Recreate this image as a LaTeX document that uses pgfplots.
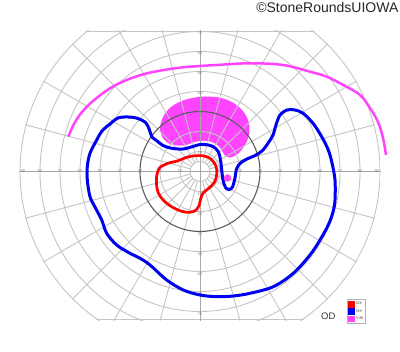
\documentclass[border=0pt]{standalone}
\usepackage{fontspec}
\setmainfont{Liberation Sans}
\usepackage{pgfplots}
\pgfplotsset{compat=1.18}
\definecolor{gridc}{HTML}{C4C4C4}
\definecolor{axc}{HTML}{A8A8A8}
\definecolor{darkc}{HTML}{5A5A5A}
\definecolor{isoR}{HTML}{FF0000}
\definecolor{isoB}{HTML}{0000F0}
\definecolor{isoM}{HTML}{FF44FF}
\pgfplotsset{sqleg/.style={legend image code/.code={\fill[##1] (0pt,-2.1pt) rectangle (4.3pt,2.1pt);}}}
\tikzset{lbl/.style={font=\fontsize{4.3}{5}\selectfont, text=black!45, inner sep=0pt}}
\begin{document}
\begin{tikzpicture}
\begin{axis}[hide axis, scale only axis, width=400pt, height=352pt,
  xmin=-100, xmax=100, ymin=-90.25, ymax=85.75, clip=false, sqleg,
  legend style={at={(0.8667,0.1497)}, anchor=north west,
    font=\fontsize{4.3}{4.8}\selectfont, draw=gray!60, inner sep=1.2pt,
    nodes={inner sep=0.6pt}, row sep=0.4pt, legend cell align=left, text=black!65}]
\path (axis cs:-100,-90.25) rectangle (axis cs:100,85.75);

% V4e filled region (under the grid)
\addplot[draw=none, fill=isoM, smooth, tension=0.6, forget plot] coordinates {
(0,37.4) (8.35,37.2) (15,35.2) (20,31.8) (23.35,27.4) (24.75,22.4) (24.25,17.4) (22,12.4) (18.5,8.5) (15,7) (12.25,8.25) (10.5,11.25) (8,13.75) (4,15.25) (0,15.25) (-3.5,14.5) (-8,13) (-13,13.25) (-16.5,14.5) (-18.5,16.5) (-19.9,20.5) (-19.5,24.5) (-17.5,29) (-13.5,33) (-7,36) (0,37.4)};

\begin{scope}
\clip (axis cs:-100,-74.3) rectangle (axis cs:100,70.3);
\clip (axis cs:0,0) circle[radius=90.4];
\pgfplotsinvokeforeach{5,10,20,40,50,60,70,80,90}{\draw[gridc, line width=0.9pt] (axis cs:0,0) circle[radius=#1];}
\pgfplotsinvokeforeach{15,30,...,345}{\draw[gridc,line width=0.9pt] (axis cs:{5*cos(#1)},{5*sin(#1)}) -- (axis cs:{100*cos(#1)},{100*sin(#1)});}
\draw[gridc, line width=0.9pt] (axis cs:-100,70) -- (axis cs:100,70);
\draw[gridc, line width=0.9pt] (axis cs:-100,-74) -- (axis cs:100,-74);
\draw[axc, line width=0.9pt] (axis cs:-100,0) -- (axis cs:100,0);
\draw[axc, line width=0.9pt] (axis cs:0,-80) -- (axis cs:0,80);
\draw[darkc, line width=1.1pt] (axis cs:0,0) circle[radius=30];
\end{scope}
\pgfplotsinvokeforeach{10,20,...,80}{\node[lbl] at (axis cs:#1,0) {#1}; \node[lbl] at (axis cs:-#1,0) {#1};}
\node[lbl] at (axis cs:88.5,0) {90}; \node[lbl] at (axis cs:-88.5,0) {90};
\pgfplotsinvokeforeach{10,20,...,70}{\node[lbl] at (axis cs:0,{#1-1}) {#1}; \node[lbl] at (axis cs:0,{-#1-1.5}) {#1};}

\addplot[only marks, mark=*, mark size=3.4pt, isoM, forget plot] coordinates {(13.75,-3.25)};

% I2e
\addplot[isoR, line width=2.7pt, smooth, tension=0.55] coordinates {
(-21.7,-2.6) (-20.4,1.6) (-16.3,4.0) (-11.2,5.3) (-7.5,6.8) (-3.4,7.8) (1.7,7.8) (5.4,6.3) (7.9,2.9) (8.4,-0.9) (7.4,-5.1) (4.7,-8.1) (1.7,-10.6) (0.4,-13.4) (-0.4,-16.8) (-2,-19.3) (-5,-20.4) (-9.2,-19.9) (-14.2,-17.6) (-18.4,-14.3) (-20.9,-10.6) (-21.7,-6.8) (-21.7,-2.6)};
\addlegendentry{I2e}

% I4e
\addplot[isoB, line width=3pt, smooth, tension=0.55] coordinates {
(-45,23.75) (-41,26.75) (-36,27.25) (-31,26.5) (-27,24.25) (-25.25,20.75) (-24,17.25) (-21.75,15.5) (-18.5,13) (-14.15,11.6) (-8.5,11.25) (-3.5,12.5) (0,13.5) (3.5,13.35) (6.65,12.4) (9.15,9.9) (10.25,5.75) (10.85,0.75) (11.5,-4.25) (12.75,-8) (14.5,-9) (16.25,-7.75) (17.5,-3.25) (18.25,1.25) (20,4) (23,6) (27.5,8) (31,10.25) (34,14.1) (36.5,18.25) (38,23.25) (40,28.25) (43.5,30.75) (47.5,30.75) (51.5,29.1) (56.5,24.1) (60.85,17.4) (64.15,10.75) (66,4.25) (67.5,-4.25) (67.5,-14.25) (66.5,-20.25) (64.15,-26.75) (60,-34.25) (55,-41.75) (46.65,-50.9) (36.65,-57.6) (25,-60.9) (16.65,-62.25) (8.35,-62.6) (0,-61.75) (-8.35,-59.25) (-16.65,-54.25) (-25,-46.75) (-30,-43.4) (-35,-40.9) (-41.65,-36.75) (-46.65,-30.9) (-49.15,-24.25) (-52.5,-17.75) (-55,-12.6) (-56.35,-4.25) (-56.35,2.4) (-55,9.1) (-51.65,15.75) (-49,20.25) (-45,23.75)};
\addlegendentry{I4e}

% V4e outer line
\addplot[isoM, line width=2.5pt, smooth, tension=0.6] coordinates {
(-65.85,17.4) (-63,23.75) (-59,29.75) (-53.5,35.25) (-45,41.6) (-36.65,45.75) (-28.35,48.6) (-20,50.4) (-8.35,52.1) (8.35,53.25) (25,54.1) (41.5,53.25) (55,49.9) (63.35,47.4) (71.65,43.25) (80,38.25) (85,31.75) (89,24.75) (91.5,16.75) (93,8.25)};
\addlegendentry{V4e}

\node[anchor=north east, inner sep=0pt, font=\fontsize{14}{16}\selectfont, text=black!85] at (axis cs:99.3,84.8) {©StoneRoundsUIOWA};
\node[font=\fontsize{9.5}{11}\selectfont, text=black!80] at (axis cs:64.15,-72.6) {OD};
\end{axis}
\end{tikzpicture}
\end{document}
